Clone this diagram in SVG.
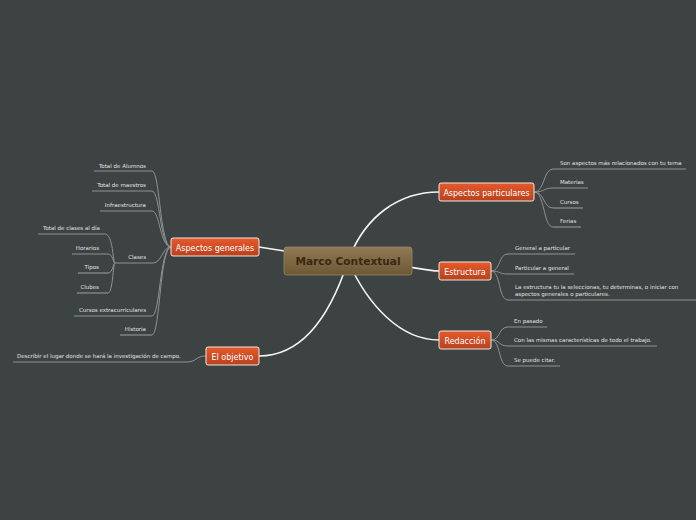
<svg xmlns="http://www.w3.org/2000/svg" width="696" height="520" viewBox="0 0 696 520">
<defs>
<linearGradient id="gMain" x1="0" y1="0" x2="0" y2="1"><stop offset="0" stop-color="#e65a2c"/><stop offset="1" stop-color="#b8401d"/></linearGradient>
<linearGradient id="gCenter" x1="0" y1="0" x2="0" y2="1"><stop offset="0" stop-color="#8f7a54"/><stop offset="1" stop-color="#6c5836"/></linearGradient>
</defs>
<style>
.bg{fill:#3d4243}
.leaf{font-family:"DejaVu Sans",Verdana,sans-serif;font-size:5.5px;fill:#e2e2e2}
.ul{stroke:#8e9292;stroke-width:1.2;fill:none}
.br{stroke:#8e9292;stroke-width:1;fill:none}
.main rect{fill:url(#gMain);stroke:#f2e6e0;stroke-width:1}
.main text{font-family:"DejaVu Sans",Verdana,sans-serif;font-size:8px;fill:#ffffff;text-anchor:middle}
.conn{stroke:#f4f4f4;stroke-width:1.6;fill:none}
</style>
<rect class="bg" x="0" y="0" width="696" height="520"/>
<g id="connectors">
<path class="conn" d="M348,261 L259,247"/>
<path class="conn" d="M348,261 C365,215 400,192 439,192"/>
<path class="conn" d="M348,261 C400,262 420,271 439,271"/>
<path class="conn" d="M348,261 C368,305 400,340 439,340"/>
<path class="conn" d="M348,261 C332,310 305,356 259,356"/>
<path class="br" d="M152,171 C160,171 160,247 171,247"/>
<path class="br" d="M152,191 C160,191 160,247 171,247"/>
<path class="br" d="M152,211 C160,211 160,247 171,247"/>
<path class="br" d="M153,263 C162,263 162,247 171,247"/>
<path class="br" d="M152,316 C160,316 160,247 171,247"/>
<path class="br" d="M152,335 C160,335 160,247 171,247"/>
<path class="br" d="M105,234 C113,234 113,263 115,263"/>
<path class="br" d="M108,254 C113,254 113,263 115,263"/>
<path class="br" d="M108,273 C113,273 113,263 115,263"/>
<path class="br" d="M108,293 C113,293 113,263 115,263"/>
<path class="br" d="M534,192 C545,192 543,169 553,169"/>
<path class="br" d="M534,192 C545,192 543,188 553,188"/>
<path class="br" d="M534,192 C545,192 543,208 553,208"/>
<path class="br" d="M534,192 C545,192 543,227 553,227"/>
<path class="br" d="M491,271 C501,271 498,254 508,254"/>
<path class="br" d="M491,271 C501,271 498,274 508,274"/>
<path class="br" d="M491,271 C501,271 498,300 508,300"/>
<path class="br" d="M491,340 C501,340 498,327 508,327"/>
<path class="br" d="M491,340 C501,340 498,346 508,346"/>
<path class="br" d="M491,340 C501,340 498,366 508,366"/>
<path class="br" d="M187,362 C196,362 196,356 206,356"/>
</g>
<g id="center">
<rect x="284" y="247" width="128" height="28" rx="3" fill="url(#gCenter)" stroke="#9a8662" stroke-width="0.8"/>
<text x="348" y="265" text-anchor="middle" font-family="DejaVu Sans,Verdana,sans-serif" font-size="10.6px" font-weight="bold" fill="#3a2812">Marco Contextual</text>
</g>
<g id="aspectos-generales" class="main"><rect x="171" y="238" width="88" height="18" rx="2"/><text x="215" y="250.5">Aspectos generales</text></g>
<g id="aspectos-particulares" class="main"><rect x="439" y="183" width="95" height="18" rx="2"/><text x="486.5" y="195.5">Aspectos particulares</text></g>
<g id="estructura" class="main"><rect x="439" y="262" width="52" height="18" rx="2"/><text x="465" y="274.5">Estructura</text></g>
<g id="redaccion" class="main"><rect x="439" y="331" width="52" height="18" rx="2"/><text x="465" y="343.5">Redacción</text></g>
<g id="el-objetivo" class="main"><rect x="206" y="347" width="53" height="18" rx="2"/><text x="232.5" y="359.5">El objetivo</text></g>
<g id="total-alumnos"><text class="leaf" x="146" y="168" text-anchor="end">Total de Alumnos</text><line class="ul" x1="94" y1="171" x2="152" y2="171"/></g>
<g id="total-maestros"><text class="leaf" x="146" y="187" text-anchor="end">Total de maestros</text><line class="ul" x1="92" y1="191" x2="152" y2="191"/></g>
<g id="infraestructura"><text class="leaf" x="146" y="207" text-anchor="end">Infraestructura</text><line class="ul" x1="100" y1="211" x2="152" y2="211"/></g>
<g id="clases"><text class="leaf" x="146" y="259" text-anchor="end">Clases</text><line class="ul" x1="115" y1="263" x2="153" y2="263"/></g>
<g id="total-clases"><text class="leaf" x="100" y="230" text-anchor="end">Total de clases al día</text><line class="ul" x1="38" y1="234" x2="105" y2="234"/></g>
<g id="horarios"><text class="leaf" x="99" y="250" text-anchor="end">Horarios</text><line class="ul" x1="72" y1="254" x2="108" y2="254"/></g>
<g id="tipos"><text class="leaf" x="99" y="269" text-anchor="end">Tipos</text><line class="ul" x1="78" y1="273" x2="108" y2="273"/></g>
<g id="clubes"><text class="leaf" x="99" y="289" text-anchor="end">Clubes</text><line class="ul" x1="77" y1="293" x2="108" y2="293"/></g>
<g id="cursos-extra"><text class="leaf" x="146" y="312" text-anchor="end">Cursos extracurriculares</text><line class="ul" x1="74" y1="316" x2="152" y2="316"/></g>
<g id="historia"><text class="leaf" x="146" y="331" text-anchor="end">Historia</text><line class="ul" x1="120" y1="335" x2="152" y2="335"/></g>
<g id="son-aspectos"><text class="leaf" x="560" y="165">Son aspectos más relacionados con tu tema</text><line class="ul" x1="553" y1="169" x2="686" y2="169"/></g>
<g id="materias"><text class="leaf" x="560" y="184">Materias</text><line class="ul" x1="553" y1="188" x2="588" y2="188"/></g>
<g id="cursos"><text class="leaf" x="560" y="204">Cursos</text><line class="ul" x1="553" y1="208" x2="583" y2="208"/></g>
<g id="ferias"><text class="leaf" x="560" y="223">Ferias</text><line class="ul" x1="553" y1="227" x2="581" y2="227"/></g>
<g id="general-particular"><text class="leaf" x="515" y="250">General a particular</text><line class="ul" x1="508" y1="254" x2="575" y2="254"/></g>
<g id="particular-general"><text class="leaf" x="515" y="270">Particular a general</text><line class="ul" x1="508" y1="274" x2="574" y2="274"/></g>
<g id="la-estructura"><text class="leaf" x="515" y="289">La estructura tu la seleccionas, tu determinas, o iniciar con</text><text class="leaf" x="515" y="296">aspectos generales o particulares.</text><line class="ul" x1="508" y1="300" x2="696" y2="300"/></g>
<g id="en-pasado"><text class="leaf" x="514" y="323">En pasado</text><line class="ul" x1="508" y1="327" x2="547" y2="327"/></g>
<g id="con-las-mismas"><text class="leaf" x="514" y="342">Con las mismas características de todo el trabajo.</text><line class="ul" x1="508" y1="346" x2="657" y2="346"/></g>
<g id="se-puede-citar"><text class="leaf" x="514" y="362">Se puede citar.</text><line class="ul" x1="508" y1="366" x2="560" y2="366"/></g>
<g id="describir"><text class="leaf" x="17" y="358">Describir el lugar donde se hará la investigación de campo.</text><line class="ul" x1="13" y1="362" x2="187" y2="362"/></g>
</svg>
